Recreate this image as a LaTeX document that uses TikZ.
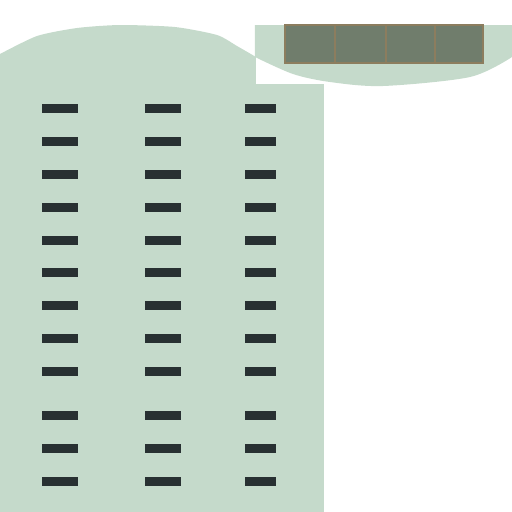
\documentclass[tikz,border=0pt]{standalone}
\usepackage{tikz}
\usepackage{xcolor}
\definecolor{lawn}{RGB}{197,218,203}
\definecolor{slab}{RGB}{40,48,50}
\definecolor{roof}{RGB}{112,125,108}
\definecolor{rim}{RGB}{140,125,94}

\begin{document}
\begin{tikzpicture}[x=0.02cm, y=-0.02cm]
    \useasboundingbox (0,0) rectangle (512,512);
    \fill[lawn] (0,512) -- plot[smooth, tension=0.4] coordinates {(0,54) (37,36) (77,28) (120,25) (175,27) (217,35) (237,46) (256,57)} -- (256,84) -- (324,84) -- (324,512) -- cycle;
    \fill[lawn] (255,25) -- (512,25) -- plot[smooth, tension=0.5] coordinates {(512,57) (470,77) (383,86) (330,82) (293,74) (255,57)} -- cycle;
    \draw[rim, fill=roof, line width=0.6pt] (285,25) rectangle (483,63);
    \foreach \xd in {335,386,435}
        \draw[rim, line width=0.6pt] (\xd,25) -- (\xd,63);
    \foreach \yr in {108,141,174,207,240,272,305,338,371,415,448,481}
        \foreach \xa/\xb in {42/78,145/181,245/276}
            \fill[slab] (\xa,\yr-4.5) rectangle (\xb,\yr+4.5);
\end{tikzpicture}
\end{document}
